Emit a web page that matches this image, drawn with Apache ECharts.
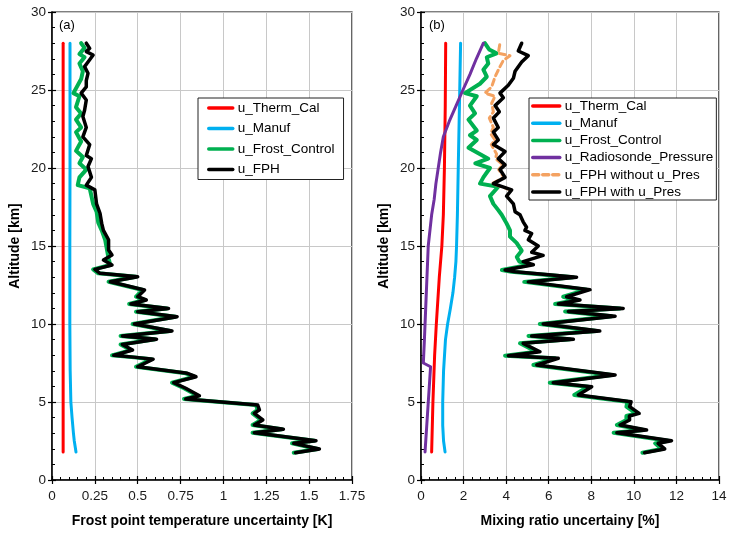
<!DOCTYPE html>
<html>
<head>
<meta charset="utf-8">
<script src="https://cdn.jsdelivr.net/npm/echarts@6/dist/echarts.min.js"></script>
<style>html,body{margin:0;padding:0;background:#fff;}#chart{width:735px;height:537px;}</style>
</head>
<body>
<div id="chart"></div>
<script>
// ---- tick labels ----
const xTicksA = [0, 0.25, 0.5, 0.75, 1, 1.25, 1.5, 1.75];
const xTicksB = [0, 2, 4, 6, 8, 10, 12, 14];
const yTicks = [0, 5, 10, 15, 20, 25, 30];

// ---- panel (a): [altitude km, frost point uncertainty K] ----
const thermCalA = [[1.8,0.065],[28,0.065]];
const manufA = [[1.8,0.14],[2.5,0.13],[3,0.125],[4,0.117],[5,0.11],[7,0.106],[10,0.104],[15,0.104],[20,0.105],[28,0.105]];
const frostCtrlA = [[1.75,1.41],[1.99,1.55],[2.35,1.40],[2.52,1.53],[3.03,1.17],[3.25,1.34],[3.53,1.17],[3.85,1.22],[4.27,1.17],[4.5,1.20],[4.81,1.19],[5.19,0.77],[5.4,0.85],[5.88,0.77],[6.24,0.70],[6.62,0.83],[6.84,0.78],[7.26,0.49],[7.74,0.58],[7.86,0.48],[7.99,0.35],[8.33,0.46],[8.69,0.40],[9.02,0.60],[9.23,0.40],[9.55,0.69],[10.0,0.47],[10.47,0.72],[10.79,0.49],[11.0,0.67],[11.28,0.45],[11.54,0.54],[11.75,0.49],[12.18,0.53],[12.71,0.33],[13.03,0.49],[13.25,0.27],[13.5,0.24],[13.78,0.34],[14.2,0.33],[15.4,0.31],[16.0,0.29],[16.5,0.27],[17.2,0.26],[17.7,0.24],[18.7,0.22],[18.9,0.15],[19.4,0.16],[19.9,0.20],[20.3,0.16],[20.7,0.18],[21.1,0.14],[21.7,0.17],[22.3,0.14],[22.6,0.17],[23.1,0.14],[23.5,0.17],[23.9,0.14],[24.6,0.16],[24.8,0.125],[25.7,0.17],[26.2,0.18],[26.7,0.16],[27.1,0.19],[27.3,0.16],[27.7,0.19],[28.0,0.17]];
const fphA = [[1.75,1.42],[1.99,1.56],[2.35,1.41],[2.52,1.54],[3.03,1.18],[3.25,1.35],[3.53,1.18],[3.85,1.23],[4.27,1.18],[4.5,1.21],[4.81,1.20],[5.19,0.78],[5.4,0.86],[5.88,0.78],[6.24,0.71],[6.62,0.84],[6.84,0.79],[7.26,0.50],[7.74,0.59],[7.86,0.49],[7.99,0.36],[8.33,0.47],[8.69,0.41],[9.02,0.61],[9.23,0.41],[9.55,0.70],[10.0,0.48],[10.47,0.73],[10.79,0.50],[11.0,0.68],[11.28,0.46],[11.54,0.55],[11.75,0.50],[12.18,0.54],[12.71,0.34],[13.03,0.50],[13.25,0.28],[13.5,0.25],[13.78,0.35],[14.1,0.30],[14.42,0.35],[14.74,0.33],[15.4,0.33],[16.0,0.30],[16.45,0.29],[17.1,0.28],[17.7,0.26],[18.6,0.25],[18.9,0.20],[19.4,0.23],[20.1,0.21],[20.6,0.23],[20.8,0.20],[21.5,0.22],[22.0,0.18],[22.6,0.20],[23.3,0.18],[23.7,0.19],[24.36,0.20],[24.8,0.17],[25.2,0.20],[25.6,0.20],[26.07,0.21],[26.5,0.19],[26.8,0.21],[27.24,0.24],[27.46,0.20],[27.67,0.22],[28.0,0.20]];

// ---- panel (b): [altitude km, mixing ratio uncertainty %] ----
const thermCalB = [[1.8,0.5],[5,0.56],[8,0.64],[10,0.72],[13,0.86],[15,0.98],[17,1.05],[20,1.1],[24,1.14],[28,1.16]];
const manufB = [[1.8,1.13],[2.5,1.06],[3.5,1.02],[5,1.02],[7,1.06],[9,1.15],[10,1.25],[11,1.38],[12,1.5],[13,1.58],[14,1.64],[15,1.67],[17,1.71],[20,1.75],[25,1.82],[28,1.86]];
const frostCtrlB = [[1.75,10.4],[1.99,11.3],[2.35,11.0],[2.52,11.6],[3.03,9.05],[3.2,10.45],[3.53,9.2],[3.85,9.65],[4.1,9.65],[4.27,10.1],[4.7,9.65],[5.02,9.7],[5.45,7.2],[5.98,7.85],[6.24,6.05],[6.73,8.95],[7.37,5.28],[7.8,6.3],[7.97,3.95],[8.22,5.42],[8.76,4.65],[9.02,7.0],[9.23,5.05],[9.55,8.25],[10.0,5.58],[10.5,8.95],[10.8,6.77],[11.0,9.35],[11.28,6.3],[11.54,7.3],[11.75,6.68],[12.2,7.78],[12.7,4.85],[13.0,7.15],[13.35,4.25],[13.46,3.8],[13.8,5.1],[14.0,4.62],[14.3,4.5],[14.7,4.73],[15.2,4.49],[15.6,4.18],[16.0,4.18],[16.45,4.02],[17.0,3.79],[17.3,3.63],[17.7,3.4],[18.2,3.24],[18.8,3.63],[19.0,2.77],[19.4,2.93],[20.0,3.24],[20.3,2.55],[20.6,3.16],[21.3,2.23],[21.8,2.62],[22.1,2.3],[22.4,2.62],[23.1,2.23],[23.5,2.54],[24.0,2.3],[24.6,2.62],[24.8,2.07],[25.4,2.77],[25.85,3.09],[26.3,2.93],[26.7,3.16],[27.1,3.09],[27.35,3.55],[27.6,3.2],[28.0,3.0]];
const radioPresB = [[1.8,0.19],[7.26,0.45],[7.5,0.11],[9,0.16],[11,0.22],[13,0.28],[15,0.34],[16,0.42],[17,0.5],[18,0.62],[19,0.7],[20,0.81],[21,0.92],[22,1.05],[23,1.33],[24,1.65],[25,1.97],[26,2.3],[27,2.6],[28,2.93]];
const fphNoPresB = [[18.6,4.2],[19.0,3.35],[19.4,3.9],[19.9,3.65],[20.2,3.85],[20.6,3.5],[20.9,3.55],[21.5,3.3],[21.8,3.48],[22.2,3.27],[22.6,3.4],[23.2,3.21],[23.6,3.4],[24.15,3.32],[24.6,3.48],[24.8,3.0],[25.2,3.32],[25.85,3.48],[26.5,3.71],[26.9,3.87],[27.2,4.18],[27.35,3.63],[28.0,3.71]];
const fphPresB = [[1.75,10.5],[1.99,11.45],[2.35,11.14],[2.52,11.77],[3.03,9.2],[3.2,10.6],[3.53,9.35],[3.85,9.8],[4.1,9.79],[4.27,10.25],[4.7,9.8],[5.02,9.87],[5.45,7.39],[5.98,8.02],[6.24,6.21],[6.73,9.12],[7.37,5.44],[7.8,6.45],[7.97,4.1],[8.22,5.59],[8.76,4.8],[9.02,7.16],[9.23,5.2],[9.55,8.4],[10.0,5.74],[10.5,9.12],[10.8,6.92],[11.0,9.5],[11.28,6.45],[11.54,7.47],[11.75,6.84],[12.2,7.94],[12.7,5.04],[13.0,7.31],[13.35,4.42],[13.46,3.95],[13.8,5.28],[14.0,4.8],[14.4,5.74],[14.6,5.2],[15.0,5.51],[15.4,5.04],[15.8,5.2],[16.0,4.88],[16.2,4.96],[16.55,4.8],[17.0,4.65],[17.2,4.42],[17.7,4.34],[18.2,4.02],[18.6,4.26],[19.0,3.4],[19.4,3.95],[19.9,3.71],[20.2,3.95],[20.6,3.63],[21.05,3.95],[21.5,3.4],[21.8,3.63],[22.3,3.4],[22.6,3.63],[23.2,3.4],[23.6,3.68],[24.0,3.48],[24.5,3.87],[24.8,3.71],[25.3,4.1],[25.75,4.34],[26.2,4.42],[26.8,4.73],[27.2,5.04],[27.5,4.57],[28.0,4.73]];

const FONT = "'Liberation Sans', Arial, sans-serif";
const toXY = arr => arr.map(p => [p[1], p[0]]);

function xAxes(grid, ticks, name, minorSplit) {
  const base = {
    gridIndex: grid, type: 'value',
    min: ticks[0], max: ticks[ticks.length - 1], interval: ticks[1] - ticks[0]
  };
  return [
    Object.assign({}, base, {
      name: name, nameLocation: 'middle', nameGap: 34,
      nameTextStyle: { fontFamily: FONT, fontSize: 14, fontWeight: 'bold', color: '#000' },
      axisLine: { show: true, onZero: false, lineStyle: { color: '#000', width: 1.5 } },
      axisTick: { show: true, inside: false, length: 4, lineStyle: { color: '#000', width: 1.2 } },
      axisLabel: { show: true, margin: 9, fontFamily: FONT, fontSize: 13.5, color: '#1a1a1a' },
      splitLine: { show: true, lineStyle: { color: '#c8c8c8', width: 1 } },
      minorTick: { show: false }
    }),
    Object.assign({}, base, {
      position: 'bottom',
      axisLine: { show: false, onZero: false },
      axisTick: { show: true, inside: true, length: 4, lineStyle: { color: '#000', width: 1.2 } },
      minorTick: { show: true, splitNumber: minorSplit, length: 3, lineStyle: { color: '#000', width: 1 } },
      axisLabel: { show: false },
      splitLine: { show: false }
    })
  ];
}
function yAxes(grid, nameGap) {
  const base = {
    gridIndex: grid, type: 'value',
    min: yTicks[0], max: yTicks[yTicks.length - 1], interval: yTicks[1] - yTicks[0]
  };
  return [
    Object.assign({}, base, {
      name: 'Altitude [km]', nameLocation: 'middle', nameGap: nameGap, nameRotate: 90,
      nameTextStyle: { fontFamily: FONT, fontSize: 14, fontWeight: 'bold', color: '#000' },
      axisLine: { show: true, onZero: false, lineStyle: { color: '#000', width: 1.5 } },
      axisTick: { show: true, inside: false, length: 4, lineStyle: { color: '#000', width: 1.2 } },
      axisLabel: { show: true, margin: 6, fontFamily: FONT, fontSize: 13.5, color: '#1a1a1a' },
      splitLine: { show: true, lineStyle: { color: '#c8c8c8', width: 1 } },
      minorTick: { show: false }
    }),
    Object.assign({}, base, {
      position: 'left',
      axisLine: { show: false, onZero: false },
      axisTick: { show: true, inside: true, length: 4, lineStyle: { color: '#000', width: 1.2 } },
      minorTick: { show: true, splitNumber: 5, length: 3, lineStyle: { color: '#000', width: 1 } },
      axisLabel: { show: false },
      splitLine: { show: false }
    })
  ];
}

function line(name, data, xi, yi, color, width, z, dashed) {
  return {
    name: name, type: 'line', xAxisIndex: xi, yAxisIndex: yi,
    data: toXY(data), showSymbol: false, symbol: 'none', smooth: false,
    z: z, animation: false,
    lineStyle: { color: color, width: width, type: dashed ? [6, 4] : 'solid', join: 'round', cap: 'round' },
    itemStyle: { color: color }
  };
}

const chart = echarts.init(document.getElementById('chart'), null, { renderer: 'canvas' });
const legendText = { fontFamily: FONT, fontSize: 13.5, color: '#000' };
chart.setOption({
  backgroundColor: '#fff',
  animation: false,
  grid: [
    { left: 52, top: 12, width: 300, height: 468, show: true, borderColor: '#000', borderWidth: 1.2, backgroundColor: 'transparent' },
    { left: 421, top: 12, width: 298, height: 468, show: true, borderColor: '#000', borderWidth: 1.2, backgroundColor: 'transparent' }
  ],
  xAxis: [].concat(
    xAxes(0, xTicksA, 'Frost point temperature uncertainty [K]', 5),
    xAxes(1, xTicksB, 'Mixing ratio uncertainy [%]', 5)
  ),
  yAxis: [].concat(yAxes(0, 30), yAxes(1, 30)),
  legend: [
    {
      orient: 'vertical', left: 198, top: 98, padding: [3, 9, 3, 9],
      itemWidth: 24, itemHeight: 10, itemGap: 6.5,
      backgroundColor: '#fff', borderColor: '#222', borderWidth: 1,
      itemStyle: { opacity: 0 },
      lineStyle: { width: 3.5 },
      textStyle: legendText, selectedMode: false,
      data: ['u_Therm_Cal', 'u_Manuf', 'u_Frost_Control', 'u_FPH']
    },
    {
      orient: 'vertical', left: 529, top: 98, padding: [1, 3, 1, 2],
      itemWidth: 27, itemHeight: 10, itemGap: 3.2,
      backgroundColor: '#fff', borderColor: '#222', borderWidth: 1,
      itemStyle: { opacity: 0 },
      lineStyle: { width: 3.5 },
      textStyle: legendText, selectedMode: false,
      data: ['u_Therm_Cal', 'u_Manuf', 'u_Frost_Control', 'u_Radiosonde_Pressure', 'u_FPH without u_Pres', 'u_FPH with u_Pres']
    }
  ],
  graphic: [
    { type: 'text', left: 59, top: 19, style: { text: '(a)', fontFamily: FONT, fontSize: 13, fill: '#000' } },
    { type: 'text', left: 429, top: 19, style: { text: '(b)', fontFamily: FONT, fontSize: 13, fill: '#000' } }
  ],
  series: [
    line('u_Therm_Cal', thermCalA, 0, 0, '#ff0000', 3, 3),
    line('u_Manuf', manufA, 0, 0, '#00b0f0', 3, 4),
    line('u_Frost_Control', frostCtrlA, 0, 0, '#00b050', 4, 5),
    line('u_FPH', fphA, 0, 0, '#000000', 3.5, 6),
    line('u_Therm_Cal', thermCalB, 2, 2, '#ff0000', 3, 3),
    line('u_Manuf', manufB, 2, 2, '#00b0f0', 3, 4),
    line('u_Frost_Control', frostCtrlB, 2, 2, '#00b050', 4, 5),
    line('u_Radiosonde_Pressure', radioPresB, 2, 2, '#7030a0', 3, 6),
    line('u_FPH without u_Pres', fphNoPresB, 2, 2, '#f4a261', 3, 7, true),
    line('u_FPH with u_Pres', fphPresB, 2, 2, '#000000', 3.5, 8)
  ]
});
</script>
</body>
</html>
